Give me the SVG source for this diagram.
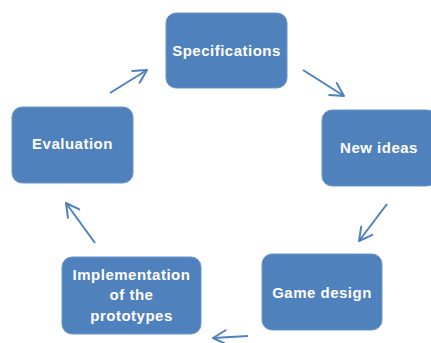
<svg xmlns="http://www.w3.org/2000/svg" width="431" height="343" viewBox="0 0 431 343">
<defs>
<style>
.box{fill:#4F81BD;stroke:#6A95CB;stroke-width:1}
.lbl{fill:#FFFFFF;font-family:"Liberation Sans",Arial,sans-serif;font-weight:bold;font-size:15px;letter-spacing:0.5px;text-anchor:middle}
.arr{stroke:#4F81BD;stroke-width:2;fill:none;marker-end:url(#ah)}
</style>
<marker id="ah" viewBox="0 0 16 16" refX="15" refY="8" markerWidth="16" markerHeight="16" markerUnits="userSpaceOnUse" orient="auto">
<path d="M2,1 L15,8 L2,15" fill="none" stroke="#4F81BD" stroke-width="2" stroke-linecap="round" stroke-linejoin="round"/>
</marker>
</defs>
<rect width="431" height="343" fill="#FFFFFF"/>
<g id="connectors">
<line class="arr" x1="303" y1="70" x2="344" y2="96"/>
<line class="arr" x1="387" y1="204" x2="359" y2="241"/>
<line class="arr" x1="248" y1="336" x2="213" y2="338"/>
<line class="arr" x1="95" y1="243" x2="66" y2="203"/>
<line class="arr" x1="110" y1="93" x2="147" y2="70"/>
</g>
<g id="specifications">
<rect class="box" x="166" y="13" width="121" height="75" rx="10"/>
<text class="lbl" x="226.5" y="56">Specifications</text>
</g>
<g id="new-ideas">
<rect class="box" x="322" y="110" width="115" height="76" rx="10"/>
<text class="lbl" x="379" y="153">New ideas</text>
</g>
<g id="game-design">
<rect class="box" x="262" y="254" width="120" height="76" rx="10"/>
<text class="lbl" x="322" y="298">Game design</text>
</g>
<g id="implementation">
<rect class="box" x="62" y="257" width="139" height="77" rx="10"/>
<text class="lbl" x="131.5" y="280">Implementation</text>
<text class="lbl" x="131.5" y="300">of the</text>
<text class="lbl" x="131.5" y="321">prototypes</text>
</g>
<g id="evaluation">
<rect class="box" x="12" y="107" width="121" height="76" rx="10"/>
<text class="lbl" x="72.5" y="149">Evaluation</text>
</g>
</svg>
